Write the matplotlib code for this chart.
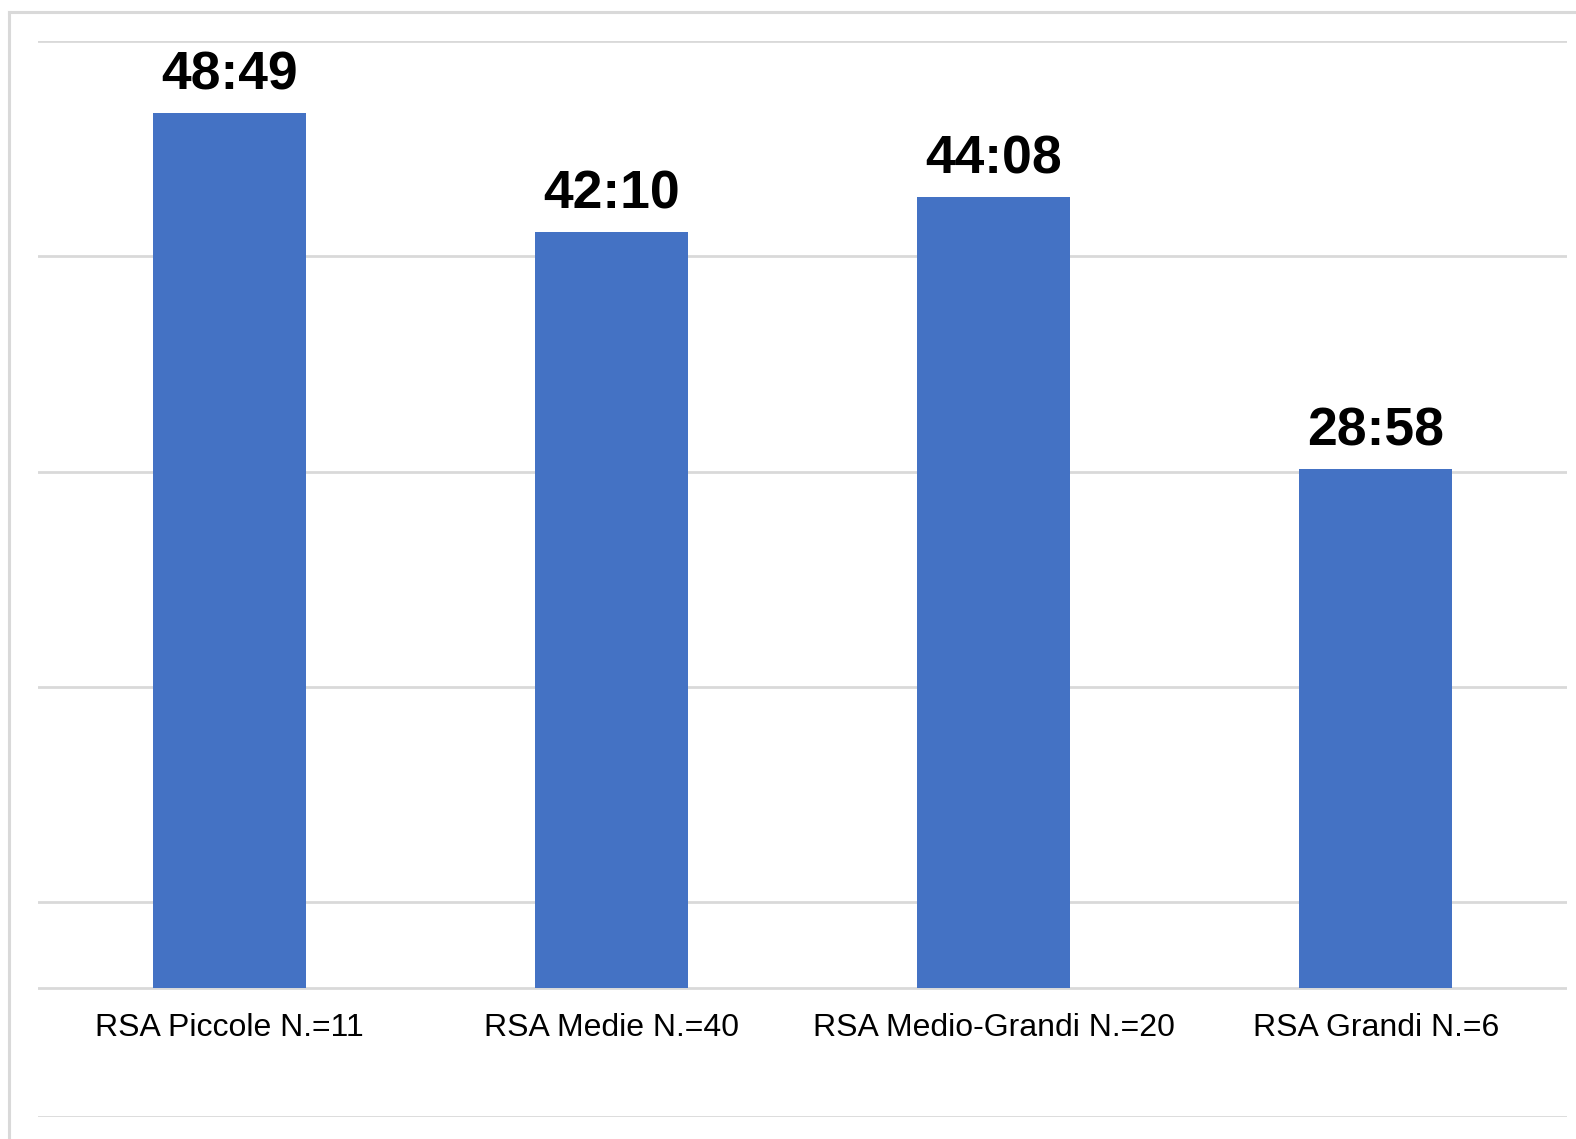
import numpy as np
import matplotlib
matplotlib.use("Agg")
import matplotlib.pyplot as plt
from matplotlib.lines import Line2D

# dati: tempo medio (min:sec) per classe di RSA
categorie = ['RSA Piccole N.=11', 'RSA Medie N.=40', 'RSA Medio-Grandi N.=20', 'RSA Grandi N.=6']
etichette = ['48:49', '42:10', '44:08', '28:58']
minuti = [int(t.split(':')[0]) + int(t.split(':')[1]) / 60 for t in etichette]

# assi stile Excel: min -7:12, passo 12 min
y_min, y_max, passo = -7.2, 52.8, 12.0

plt.rcParams['font.family'] = ['Liberation Sans', 'DejaVu Sans']

W, H = 1576, 1139
fig = plt.figure(figsize=(W / 100, H / 100), dpi=100)
ax = fig.add_axes([38 / W, 1 - 1117 / H, (1567 - 38) / W, (1117 - 41.3) / H])

x = np.arange(len(categorie))
ax.bar(x, minuti, width=0.4, color='#4472C4', zorder=3)

ax.set_xlim(-0.5, len(categorie) - 0.5)
ax.set_ylim(y_min, y_max)
ax.set_yticks(np.arange(y_min, y_max + 0.01, passo))
ax.yaxis.grid(True, color='#D9D9D9', linewidth=2, zorder=0)
ax.axhline(0, color='#D9D9D9', linewidth=2, zorder=2)
ax.tick_params(left=False, labelleft=False, bottom=False, labelbottom=False)
for s in ax.spines.values():
    s.set_visible(False)

for xi, v, lab in zip(x, minuti, etichette):
    ax.annotate(lab, (xi, v), xytext=(0, 9), textcoords='offset points',
                ha='center', va='bottom', fontsize=38.5, fontweight='bold', color='black')

for xi, cat in zip(x, categorie):
    ax.annotate(cat, (xi, 0), xytext=(0, -18), textcoords='offset points',
                ha='center', va='top', fontsize=23, color='black')

# cornice esterna
fig.add_artist(Line2D([9 / W, 9 / W], [0, 1 - 12 / H], color='#D9D9D9', linewidth=2.2))
fig.add_artist(Line2D([9 / W, 1], [1 - 12 / H, 1 - 12 / H], color='#D9D9D9', linewidth=2.2))

fig.savefig('out.png', dpi=100)
